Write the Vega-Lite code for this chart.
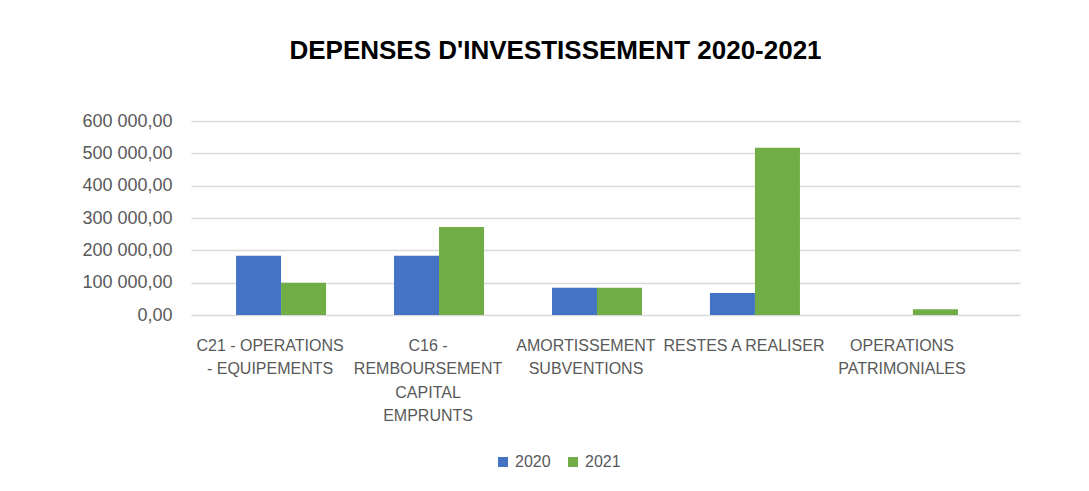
{
  "$schema": "https://vega.github.io/schema/vega-lite/v6.json",
  "autosize": "none",
  "width": 829,
  "height": 194,
  "padding": {"left": 191, "top": 121, "right": 69, "bottom": 176},
  "background": "white",
  "title": {
    "text": "DEPENSES D'INVESTISSEMENT 2020-2021",
    "font": "Liberation Sans",
    "fontSize": 26,
    "fontWeight": "bold",
    "color": "#000000",
    "anchor": "middle",
    "dx": -50,
    "offset": 48
  },
  "data": {
    "values": [
      {"poste": "C21 - OPERATIONS - EQUIPEMENTS", "annee": "2020", "montant": 183000},
      {"poste": "C21 - OPERATIONS - EQUIPEMENTS", "annee": "2021", "montant": 100000},
      {"poste": "C16 - REMBOURSEMENT CAPITAL EMPRUNTS", "annee": "2020", "montant": 183000},
      {"poste": "C16 - REMBOURSEMENT CAPITAL EMPRUNTS", "annee": "2021", "montant": 272000},
      {"poste": "AMORTISSEMENT SUBVENTIONS", "annee": "2020", "montant": 84000},
      {"poste": "AMORTISSEMENT SUBVENTIONS", "annee": "2021", "montant": 84000},
      {"poste": "RESTES A REALISER", "annee": "2020", "montant": 68000},
      {"poste": "RESTES A REALISER", "annee": "2021", "montant": 517000},
      {"poste": "OPERATIONS PATRIMONIALES", "annee": "2020", "montant": 0},
      {"poste": "OPERATIONS PATRIMONIALES", "annee": "2021", "montant": 18000}
    ]
  },
  "mark": {"type": "bar"},
  "encoding": {
    "x": {
      "field": "poste",
      "type": "nominal",
      "sort": null,
      "scale": {"paddingInner": 0.43, "paddingOuter": 0.339, "align": 0.318},
      "axis": {
        "title": null,
        "labelAngle": 0,
        "domain": false,
        "ticks": false,
        "labelFont": "Liberation Sans",
        "labelFontSize": 16,
        "labelColor": "#595959",
        "labelBaseline": "top",
        "labelPadding": 22,
        "labelLineHeight": 23.5,
        "labelLimit": 0,
        "labelExpr": "datum.value == 'C21 - OPERATIONS - EQUIPEMENTS' ? ['C21 - OPERATIONS', '- EQUIPEMENTS'] : datum.value == 'C16 - REMBOURSEMENT CAPITAL EMPRUNTS' ? ['C16 -', 'REMBOURSEMENT', 'CAPITAL', 'EMPRUNTS'] : datum.value == 'AMORTISSEMENT SUBVENTIONS' ? ['AMORTISSEMENT', 'SUBVENTIONS'] : datum.value == 'OPERATIONS PATRIMONIALES' ? ['OPERATIONS', 'PATRIMONIALES'] : datum.value"
      }
    },
    "xOffset": {"field": "annee", "type": "nominal", "scale": {"range": [11, 101], "paddingInner": 0, "paddingOuter": 0}},
    "y": {
      "field": "montant",
      "type": "quantitative",
      "scale": {"domain": [0, 600000], "nice": false},
      "axis": {
        "title": null,
        "values": [0, 100000, 200000, 300000, 400000, 500000, 600000],
        "domain": false,
        "ticks": false,
        "labelFont": "Liberation Sans",
        "labelFontSize": 18,
        "labelColor": "#595959",
        "labelPadding": 19,
        "gridColor": "#d9d9d9",
        "gridWidth": 1.5,
        "labelExpr": "replace(replace(format(datum.value, ',.2f'), ',', ' '), '.', ',')"
      }
    },
    "color": {
      "field": "annee",
      "type": "nominal",
      "scale": {"domain": ["2020", "2021"], "range": ["#4472C4", "#70AD47"]},
      "legend": {
        "title": null,
        "orient": "none",
        "direction": "horizontal",
        "legendX": 304,
        "legendY": 333,
        "symbolType": "square",
        "symbolSize": 100,
        "symbolStrokeWidth": 0,
        "labelFont": "Liberation Sans",
        "labelFontSize": 16,
        "labelColor": "#595959",
        "columnPadding": 14,
        "labelOffset": 4
      }
    }
  },
  "config": {"view": {"stroke": null}}
}
